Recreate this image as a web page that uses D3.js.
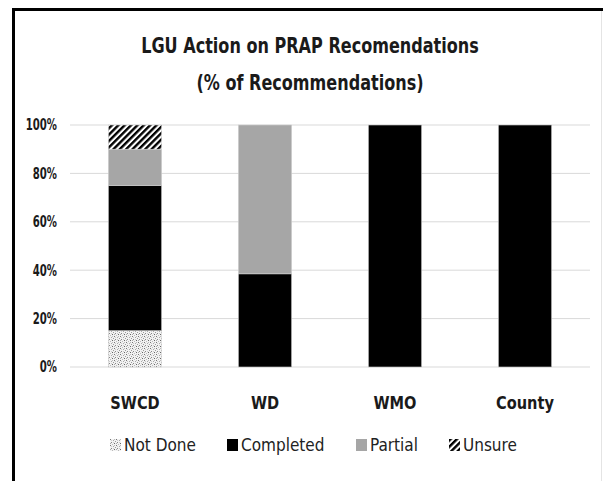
<!DOCTYPE html>
<html><head><meta charset="utf-8">
<script src="https://cdn.jsdelivr.net/npm/d3@7"></script>
<style>body{margin:0;background:#fff}svg{display:block}</style>
</head><body>
<svg id="c" width="603" height="481"></svg>
<script>
const categories = ["SWCD", "WD", "WMO", "County"];
const seriesNames = ["Not Done", "Completed", "Partial", "Unsure"];
const notDone   = [15, 0, 0, 0];
const completed = [60, 38.5, 100, 100];
const partial   = [15, 61.5, 0, 0];
const unsure    = [10, 0, 0, 0];
const yTicks = [0, 20, 40, 60, 80, 100];
const titleLines = ["LGU Action on PRAP Recomendations", "(% of Recommendations)"];

const font = "'Liberation Sans Narrow','DejaVu Sans Condensed',sans-serif";
const svg = d3.select("#c");
const defs = svg.append("defs");

function squeeze(sel, f){
  sel.each(function(){
    const w = this.getComputedTextLength();
    d3.select(this).attr("textLength", w*f).attr("lengthAdjust","spacingAndGlyphs");
  });
}

// dotted pattern
const pd = defs.append("pattern").attr("id","dots").attr("patternUnits","userSpaceOnUse")
  .attr("width",6).attr("height",6);
pd.append("rect").attr("width",6).attr("height",6).attr("fill","#f2f2f2");
[[0,0,"#777"],[3,1,"#aaa"],[1,3,"#888"],[4,4,"#666"],[2,5,"#bbb"],[5,2,"#999"],[1,1,"#ccc"],[4,0,"#bbb"],[0,4,"#aaa"],[3,3,"#ccc"]].forEach(p=>
  pd.append("rect").attr("x",p[0]).attr("y",p[1]).attr("width",1).attr("height",1).attr("fill",p[2]));
// stripes
const ps = defs.append("pattern").attr("id","stripes").attr("patternUnits","userSpaceOnUse")
  .attr("width",4.5).attr("height",4.5).attr("patternTransform","rotate(45)");
ps.append("rect").attr("width",4.5).attr("height",4.5).attr("fill","#fff");
ps.append("rect").attr("width",2.4).attr("height",4.5).attr("fill","#000");

const fills = ["url(#dots)", "#000", "#a6a6a6", "url(#stripes)"];

// frame
svg.append("rect").attr("x",0).attr("y",0).attr("width",603).attr("height",481).attr("fill","#fff");
svg.append("line").attr("x1",13.5).attr("x2",13.5).attr("y1",8).attr("y2",481).attr("stroke","#000").attr("stroke-width",3);
svg.append("line").attr("x1",12).attr("x2",603).attr("y1",9.5).attr("y2",9.5).attr("stroke","#000").attr("stroke-width",3);
svg.append("line").attr("x1",601.5).attr("x2",601.5).attr("y1",11).attr("y2",481).attr("stroke","#e4e4e4").attr("stroke-width",1);

// title
const tt = svg.append("g").selectAll("text").data(titleLines).join("text")
  .attr("x",310).attr("y",(d,i)=>53+i*37).attr("text-anchor","middle")
  .attr("font-family",font).attr("font-size",21).attr("font-weight","bold").attr("fill","#1a1a1a")
  .text(d=>d);
squeeze(tt, 0.85);

const x = d3.scaleBand().domain(categories).range([70,590]).paddingInner(0.59).paddingOuter(0.295);
const y = d3.scaleLinear().domain([0,100]).range([367,125]);

// grid
svg.append("g").selectAll("line").data(yTicks).join("line")
  .attr("x1",70).attr("x2",590).attr("y1",d=>y(d)).attr("y2",d=>y(d))
  .attr("stroke","#d9d9d9").attr("stroke-width",1);

const yAxis = svg.append("g").attr("transform","translate(57,0)")
  .call(d3.axisLeft(y).tickValues(yTicks).tickFormat(d=>d+"%").tickSize(0).tickPadding(0));
yAxis.select(".domain").remove();
yAxis.selectAll("text").attr("font-family",font).attr("font-size",15).attr("font-weight","bold").attr("fill","#1a1a1a");
squeeze(yAxis.selectAll("text"), 0.75);

const data = categories.map((c,i)=>({cat:c,"Not Done":notDone[i],"Completed":completed[i],"Partial":partial[i],"Unsure":unsure[i]}));
const stack = d3.stack().keys(seriesNames)(data);
svg.append("g").selectAll("g").data(stack).join("g")
  .attr("fill",(d,i)=>fills[i])
  .selectAll("rect").data(d=>d.filter(v=>v[1]-v[0]>0)).join("rect")
  .attr("x",d=>x(d.data.cat)).attr("width",x.bandwidth())
  .attr("y",d=>y(d[1])).attr("height",d=>y(d[0])-y(d[1]))
  .attr("stroke","#d0d0d0").attr("stroke-width",0.6);

const xAxis = svg.append("g").attr("transform","translate(0,367)")
  .call(d3.axisBottom(x).tickSize(0).tickPadding(0));
xAxis.select(".domain").remove();
xAxis.selectAll("text").attr("dy",0).attr("y",42).attr("font-family",font).attr("font-size",18).attr("font-weight","bold").attr("fill","#1a1a1a");
squeeze(xAxis.selectAll("text"), 0.9);

// legend
const legX = [110, 227, 356, 449];
const lg = svg.append("g").selectAll("g").data(seriesNames).join("g")
  .attr("transform",(d,i)=>`translate(${legX[i]},439)`);
lg.append("rect").attr("width",11).attr("height",12).attr("fill",(d,i)=>fills[i]);
lg.append("text").attr("x",14).attr("y",12).attr("font-family",font).attr("font-size",17).attr("fill","#222").text(d=>d);
</script>
</body></html>
